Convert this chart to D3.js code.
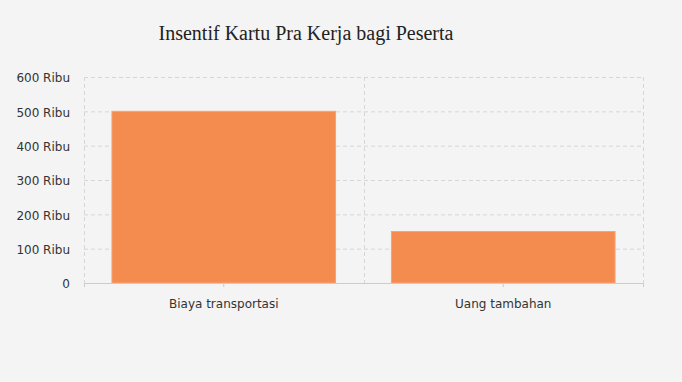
<!DOCTYPE html>
<html>
<head>
<meta charset="utf-8">
<script src="https://cdn.jsdelivr.net/npm/d3@7"></script>
<style>
  body { margin: 0; background: #f4f4f4; }
  svg { display: block; }
</style>
</head>
<body>
<svg width="682" height="382"></svg>
<script>
const categories = ["Biaya transportasi", "Uang tambahan"];
const values = [500000, 150000];
const yTicks = [0, 100000, 200000, 300000, 400000, 500000, 600000];

const svg = d3.select("svg");
const margin = { left: 84, right: 39, top: 77, bottom: 99 };
const width = 682 - margin.left - margin.right;
const height = 382 - margin.top - margin.bottom;

svg.append("rect").attr("width", 682).attr("height", 382).attr("fill", "#f4f4f4");

svg.append("text")
    .attr("x", 306)
    .attr("y", 40)
    .attr("text-anchor", "middle")
    .attr("font-family", "Liberation Serif, Times New Roman, serif")
    .attr("font-size", 20)
    .attr("fill", "#222")
    .text("Insentif Kartu Pra Kerja bagi Peserta");

const g = svg.append("g").attr("transform", `translate(${margin.left},${margin.top})`);

const x = d3.scaleBand().domain(categories).range([0, width]).padding(0);
const y = d3.scaleLinear().domain([0, 600000]).range([height, 0]);

// horizontal grid
g.append("g")
    .selectAll("line")
    .data(yTicks)
    .enter()
    .append("line")
    .attr("x1", 0)
    .attr("x2", width)
    .attr("y1", d => y(d) + 0.5)
    .attr("y2", d => y(d) + 0.5)
    .attr("stroke", "#d6d6d6")
    .attr("stroke-dasharray", "4,3");

// vertical grid at band edges
const edges = categories.map(c => x(c)).concat([width]);
g.append("g")
    .selectAll("line")
    .data(edges)
    .enter()
    .append("line")
    .attr("x1", d => Math.round(d) + 0.5)
    .attr("x2", d => Math.round(d) + 0.5)
    .attr("y1", 0)
    .attr("y2", height)
    .attr("stroke", "#d6d6d6")
    .attr("stroke-dasharray", "4,3");

// bars
g.append("g")
    .selectAll("rect")
    .data(values)
    .enter()
    .append("rect")
    .attr("x", (d, i) => x(categories[i]) + x.bandwidth() * 0.1)
    .attr("width", x.bandwidth() * 0.8)
    .attr("y", d => y(d))
    .attr("height", d => height - y(d))
    .attr("fill", "#f48c50")
    .attr("stroke", "#f7a374")
    .attr("stroke-width", 1);

// y axis
const yAxis = g.append("g")
    .call(d3.axisLeft(y).tickValues(yTicks)
        .tickFormat(d => d === 0 ? "0" : (d / 1000) + " Ribu")
        .tickSize(0).tickPadding(14));
yAxis.select(".domain").remove();
yAxis.selectAll("text")
    .attr("font-family", "DejaVu Sans, Verdana, sans-serif")
    .attr("font-size", 12)
    .attr("dy", "0.4em")
    .attr("fill", "#333");

// x axis
const xAxis = g.append("g")
    .attr("transform", `translate(0,${height})`)
    .call(d3.axisBottom(x).tickSize(4).tickPadding(12));
xAxis.select(".domain").attr("stroke", "#cccccc");
xAxis.selectAll(".tick line").attr("stroke", "#cccccc");
xAxis.selectAll("text")
    .attr("font-family", "DejaVu Sans, Verdana, sans-serif")
    .attr("font-size", 12)
    .attr("fill", "#333");
</script>
</body>
</html>
